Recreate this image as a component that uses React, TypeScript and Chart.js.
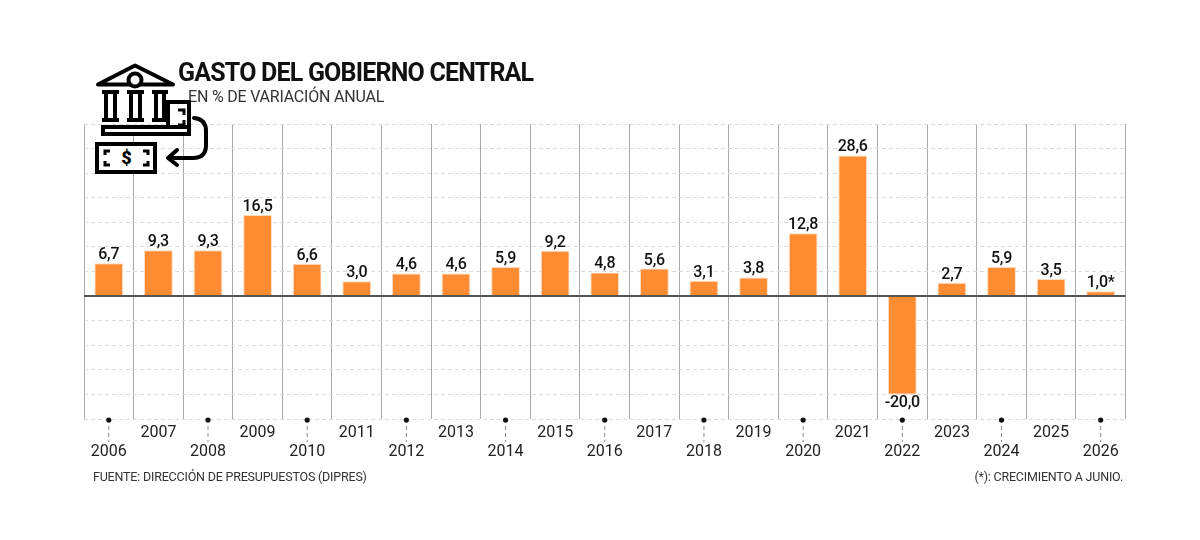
import React, { useEffect, useRef } from "react";
import { Chart, registerables } from "chart.js";
Chart.register(...registerables);

const years = ["2006","2007","2008","2009","2010","2011","2012","2013","2014","2015","2016","2017","2018","2019","2020","2021","2022","2023","2024","2025","2026"];
const values = [6.7,9.3,9.3,16.5,6.6,3.0,4.6,4.6,5.9,9.2,4.8,5.6,3.1,3.8,12.8,28.6,-20.0,2.7,5.9,3.5,1.0];
const labels = ["6,7","9,3","9,3","16,5","6,6","3,0","4,6","4,6","5,9","9,2","4,8","5,6","3,1","3,8","12,8","28,6","-20,0","2,7","5,9","3,5","1,0*"];
const title = "GASTO DEL GOBIERNO CENTRAL";
const subtitle = "EN % DE VARIACIÓN ANUAL";
const source = "FUENTE: DIRECCIÓN DE PRESUPUESTOS (DIPRES)";
const note = "(*): CRECIMIENTO A JUNIO.";

const FONT = 'Roboto, sans-serif';

const decor = {
  id: "decor",
  afterDatasetsDraw(chart: any) {
    const { ctx, scales: { x, y } } = chart;
    const meta = chart.getDatasetMeta(0);
    ctx.save();
    ctx.font = `500 16px ${FONT}`;
    ctx.fillStyle = "#111";
    ctx.textAlign = "center";
    ctx.letterSpacing = "-0.2px";
    meta.data.forEach((bar: any, i: number) => {
      const neg = values[i] < 0;
      ctx.textBaseline = neg ? "top" : "bottom";
      ctx.fillText(labels[i], bar.x, neg ? bar.y + 1 : bar.y);
    });
    const axisY = y.getPixelForValue(-25);
    years.forEach((_y, i) => {
      const px = x.getPixelForValue(i);
      if (i % 2 === 0) {
        ctx.strokeStyle = "#888";
        ctx.lineWidth = 1;
        ctx.setLineDash([4, 3]);
        ctx.beginPath();
        ctx.moveTo(px, axisY);
        ctx.lineTo(px, axisY + 23);
        ctx.stroke();
        ctx.setLineDash([]);
        ctx.fillStyle = "#111";
        ctx.beginPath();
        ctx.arc(px, axisY + 1, 2.6, 0, Math.PI * 2);
        ctx.fill();
      }
    });
    ctx.restore();
  },
};

export default function App() {
  const ref = useRef<HTMLCanvasElement>(null);
  useEffect(() => {
    document.body.style.margin = "0";
    document.body.style.background = "#fff";
    const chart = new Chart(ref.current!, {
      type: "bar",
      data: {
        labels: years,
        datasets: [{
          data: values,
          backgroundColor: "#ff8c33",
          borderColor: "#ffd9bd",
          borderWidth: 1,
          barPercentage: 0.58,
          categoryPercentage: 1,
        }],
      },
      options: {
        animation: false,
        responsive: false,
        maintainAspectRatio: false,
        layout: { padding: { top: 124, right: 74.5 } },
        plugins: { legend: { display: false }, tooltip: { enabled: false } },
        scales: {
          x: {
            position: "bottom",
            offset: true,
            afterFit(s: any) { s.height = 121; },
            grid: { color: "#a8a8a8", lineWidth: 1, drawTicks: false },
            border: { display: false },
            ticks: {
              autoSkip: false,
              maxRotation: 0,
              minRotation: 0,
              padding: 4,
              color: "#222",
              font: { family: FONT, size: 16 },
              callback: (_v: any, i: number) => (i % 2 === 0 ? ["", years[i]] : [years[i]]),
            },
          },
          y: {
            min: -25,
            max: 35,
            afterFit(s: any) { s.width = 84; },
            ticks: { stepSize: 5, display: false },
            border: {
              display: false,
              dash: (c: any) => (c.tick && c.tick.value === 0 ? [] : [4, 3]),
            },
            grid: {
              drawTicks: false,
              color: (c: any) => (c.tick && c.tick.value === 0 ? "#555" : "#dcdcdc"),
              lineWidth: (c: any) => (c.tick && c.tick.value === 0 ? 2 : 1),
            },
          },
        },
      },
      plugins: [decor],
    } as any);
    return () => chart.destroy();
  }, []);

  const text = (extra: React.CSSProperties) => ({
    position: "absolute" as const,
    fontFamily: FONT,
    whiteSpace: "nowrap" as const,
    lineHeight: 1,
    ...extra,
  });

  return (
    <div style={{ position: "relative", width: 1200, height: 540, overflow: "hidden", background: "#fff" }}>
      <canvas ref={ref} width={1200} height={540} style={{ position: "absolute", left: 0, top: 0, display: "block", width: 1200, height: 540 }} />
      <div style={text({ left: 178, top: 60, fontSize: 25, fontWeight: 700, letterSpacing: -0.8, color: "#111" })}>{title}</div>
      <div style={text({ left: 188, top: 89, fontSize: 16, color: "#333", letterSpacing: -0.2 })}>{subtitle}</div>
      <div style={text({ left: 93, top: 471, fontSize: 12.5, color: "#333", letterSpacing: -0.2 })}>{source}</div>
      <div style={text({ right: 77, top: 471, fontSize: 12.5, color: "#333", letterSpacing: -0.2 })}>{note}</div>
      <svg width="1200" height="540" style={{ position: "absolute", left: 0, top: 0 }} fill="none" stroke="#000" strokeWidth="4">
        <rect x="168" y="102" width="21" height="32" fill="#fff" />
        <path d="M98 84.5 L135 65.5 L173 84.5 Z" fill="#fff" strokeLinejoin="round" />
        <circle cx="135" cy="80" r="6.5" fill="#fff" />
        <path d="M102 92 H119 M127 92 H144 M152 92 H168" />
        <path d="M106 92 V120 M115 92 V120 M131 92 V120 M140 92 V120 M156 92 V120 M164 92 V120" />
        <path d="M102 120 H119 M127 120 H144 M152 120 H168" />
        <rect x="103" y="127" width="86" height="7" fill="#fff" />
        <rect x="97" y="144" width="58" height="28" fill="#fff" />
        <path d="M110 151 H105 V155 M110 165 H105 V161 M143 151 H148 V155 M143 165 H148 V161 M178 110 H184 V115 M178 125 H184 V120" strokeWidth="3" />
        <path d="M194 118 Q206 119 206 131 V145 Q206 158 193 158 H170" strokeLinecap="round" />
        <path d="M177 150 L168 158 L177 165" strokeLinecap="round" strokeLinejoin="round" />
        <text x="126.5" y="164" textAnchor="middle" fontSize="18" fontWeight="900" fontFamily={FONT} fill="#000" stroke="none">$</text>
      </svg>
    </div>
  );
}
